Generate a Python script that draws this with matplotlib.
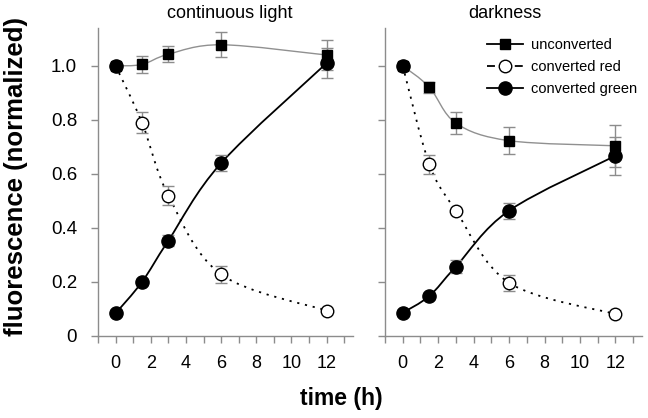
import matplotlib
matplotlib.use('Agg')
import matplotlib.pyplot as plt
import numpy as np
from matplotlib.path import Path
from matplotlib.patches import PathPatch
from matplotlib.lines import Line2D

plt.rcParams['font.family'] = ['Liberation Sans', 'DejaVu Sans']

# Data ---------------------------------------------------------------- #
time = [0, 1.5, 3, 6, 12]

# continuous light
light_unconv     = [1.0, 1.005, 1.043, 1.078, 1.04]
light_unconv_err = [0.0, 0.03, 0.03, 0.047, 0.055]
light_red        = [1.0, 0.79, 0.52, 0.228, 0.094]
light_red_err    = [0.0, 0.04, 0.034, 0.03, 0.0]
light_green      = [0.084, 0.20, 0.353, 0.64, 1.01]
light_green_err  = [0.0, 0.0, 0.02, 0.03, 0.055]

# darkness
dark_unconv      = [1.0, 0.921, 0.788, 0.723, 0.704]
dark_unconv_err  = [0.0, 0.02, 0.04, 0.05, 0.077]
dark_red         = [1.0, 0.636, 0.464, 0.197, 0.081]
dark_red_err     = [0.0, 0.035, 0.0, 0.03, 0.0]
dark_green       = [0.086, 0.148, 0.257, 0.464, 0.667]
dark_green_err   = [0.0, 0.0, 0.025, 0.03, 0.07]

titles = ['continuous light', 'darkness']
x_ticks = [0, 2, 4, 6, 8, 10, 12]
y_ticks = [0, 0.2, 0.4, 0.6, 0.8, 1.0]
y_ticklabels = ['0', '0.2', '0.4', '0.6', '0.8', '1.0']
legend_labels = ['unconverted', 'converted red', 'converted green']


""" smooth line through points (catmull-rom as cubic bezier) """
def smooth_path(x, y):
    pts = np.column_stack([x, y]).astype(float)
    n = len(pts)
    verts = [pts[0]]
    codes = [Path.MOVETO]
    for i in range(n - 1):
        p0 = pts[i - 1] if i > 0 else pts[i]
        p1 = pts[i]
        p2 = pts[i + 1]
        p3 = pts[i + 2] if i + 2 < n else pts[i + 1]
        c1 = p1 + (p2 - p0) / 6.0
        c2 = p2 - (p3 - p1) / 6.0
        verts += [c1, c2, p2]
        codes += [Path.CURVE4] * 3
    return Path(verts, codes)


def draw_panel(axis, unconv, unconv_err, red, red_err, green, green_err):
    gray = '#8c8c8c'
    # lines
    axis.add_patch(PathPatch(smooth_path(time, unconv), fc='none', ec='#909090', lw=1.0, zorder=2))
    axis.add_patch(PathPatch(smooth_path(time, red), fc='none', ec='black', lw=1.3,
                             linestyle=(0, (1.2, 3.2)), zorder=2))
    axis.add_patch(PathPatch(smooth_path(time, green), fc='none', ec='black', lw=1.3, zorder=2))

    # error bars
    for vals, errs in [(unconv, unconv_err), (red, red_err), (green, green_err)]:
        axis.errorbar(time, vals, yerr=errs, fmt='none', ecolor=gray, elinewidth=1.0,
                      capsize=4, capthick=1.0, zorder=3)

    # markers
    axis.plot(time, unconv, 's', color='black', ms=7.5, zorder=5)
    axis.plot(time[1:], red[1:], 'o', mfc='white', mec='black', mew=1.0, ms=9, zorder=5)
    axis.plot(time[:1], red[:1], 'o', color='black', ms=9.5, zorder=6)  # start point drawn filled
    axis.plot(time, green, 'o', color='black', ms=9.5, zorder=5)

    # axis styling
    axis.set_xlim(-1, 13.5)
    axis.set_ylim(0, 1.14)
    for side in ['top', 'right']:
        axis.spines[side].set_visible(False)
    for side in ['left', 'bottom']:
        axis.spines[side].set_color('#8c8c8c')
        axis.spines[side].set_linewidth(1.0)
    axis.set_xticks(x_ticks)
    axis.set_xticks(np.arange(-1, 14, 1), minor=True)
    axis.set_yticks(y_ticks)
    axis.tick_params(axis='both', which='both', direction='out', length=5,
                     color='#8c8c8c', width=1.0)
    axis.tick_params(axis='x', pad=9, labelsize=13)
    axis.tick_params(axis='y', pad=10, labelsize=13.5)


figure = plt.figure(figsize=(6.48, 4.18), dpi=100)
ax1 = figure.add_axes([98 / 648, 1 - 336 / 418, 255 / 648, 308 / 418])
ax2 = figure.add_axes([385 / 648, 1 - 336 / 418, 257 / 648, 308 / 418])

draw_panel(ax1, light_unconv, light_unconv_err, light_red, light_red_err, light_green, light_green_err)
draw_panel(ax2, dark_unconv, dark_unconv_err, dark_red, dark_red_err, dark_green, dark_green_err)

ax1.set_yticklabels(y_ticklabels)
ax2.set_yticklabels([])

ax1.set_title(titles[0], fontsize=13, x=0.518, pad=7)
ax2.set_title(titles[1], fontsize=13, x=0.467, pad=7)

# legend
handles = [
    Line2D([], [], color='black', lw=1.3, marker='s', ms=7.5),
    Line2D([], [], color='black', lw=1.3, linestyle=(0, (4.4, 11)), marker='o',
           mfc='white', mec='black', ms=9),
    Line2D([], [], color='black', lw=1.3, marker='o', ms=9.5),
]
ax2.legend(handles, legend_labels, loc='upper left', bbox_to_anchor=(0.374, 0.985),
           borderaxespad=0, frameon=False, fontsize=10.5, handlelength=2.47,
           handletextpad=0.55, labelspacing=0.55)

figure.text(16 / 648, 1 - 177 / 418, 'fluorescence (normalized)', rotation=90,
            ha='center', va='center', fontsize=18.5, fontweight='bold')
figure.text(341 / 648, 1 - 399 / 418, 'time (h)', ha='center', va='center',
            fontsize=16.5, fontweight='bold')

plt.savefig('out.png', dpi=100)
